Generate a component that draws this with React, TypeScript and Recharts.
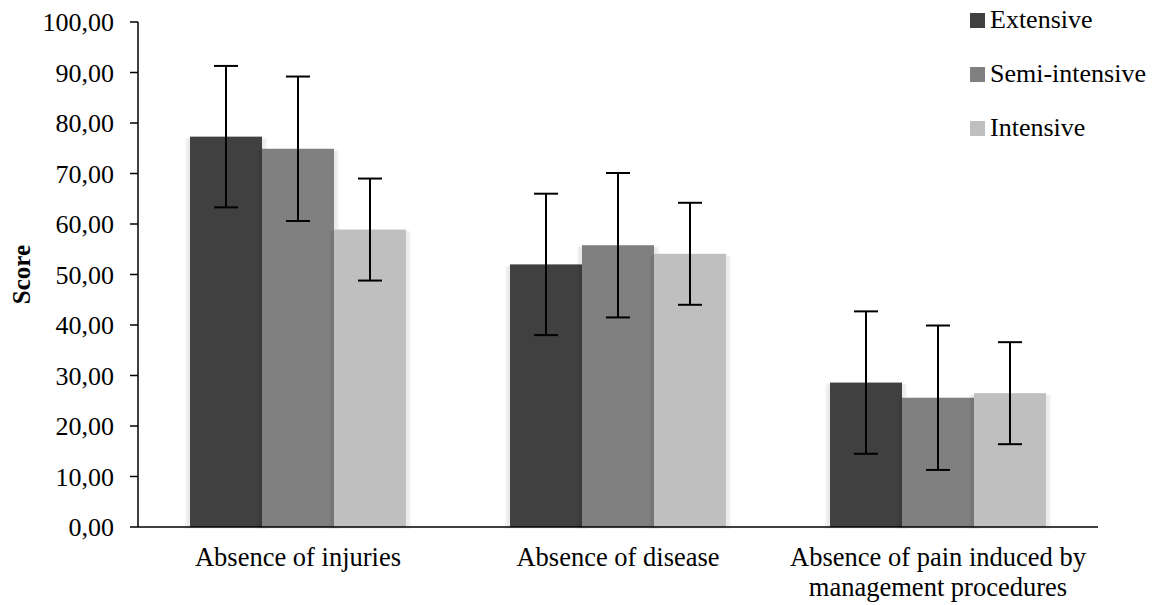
import { Bar, BarChart, ErrorBar, Label, Legend, XAxis, YAxis } from "recharts";

const CATEGORIES = [
  "Absence of injuries",
  "Absence of disease",
  "Absence of pain induced by\nmanagement procedures",
];

const SERIES_NAMES = ["Extensive", "Semi-intensive", "Intensive"];
const SERIES_COLORS = ["#404040", "#808080", "#bfbfbf"];

const EXTENSIVE = [77.3, 52.0, 28.6];
const EXTENSIVE_ERR = [14.0, 14.0, 14.1];
const SEMI_INTENSIVE = [74.9, 55.8, 25.6];
const SEMI_INTENSIVE_ERR = [14.3, 14.3, 14.3];
const INTENSIVE = [58.9, 54.1, 26.5];
const INTENSIVE_ERR = [10.1, 10.1, 10.1];

const Y_TICKS = [0, 10, 20, 30, 40, 50, 60, 70, 80, 90, 100];

const FONT = "Liberation Serif, Times New Roman, serif";

const chartData = CATEGORIES.map((name, i) => ({
  name,
  ext: EXTENSIVE[i],
  extErr: EXTENSIVE_ERR[i],
  semi: SEMI_INTENSIVE[i],
  semiErr: SEMI_INTENSIVE_ERR[i],
  int: INTENSIVE[i],
  intErr: INTENSIVE_ERR[i],
}));

const formatTick = (v: number) => v.toFixed(2).replace(".", ",");

// bar with a soft grey shadow behind it
const ShadowBar = (props: any) => {
  const { x, y, width, height, fill } = props;
  if (!height || height <= 0) return null;
  return (
    <g>
      <rect x={x - 5} y={y + 2} width={width + 10} height={height} fill="#000" fillOpacity={0.04} />
      <rect x={x - 3} y={y + 1} width={width + 6} height={height} fill="#000" fillOpacity={0.04} />
      <rect x={x} y={y} width={width} height={height} fill={fill} />
    </g>
  );
};

const CategoryTick = (props: any) => {
  const { x, y, payload } = props;
  const lines = String(payload.value).split("\n");
  return (
    <text x={x} y={y} textAnchor="middle" fill="#000" style={{ fontFamily: FONT, fontSize: 26.5 }}>
      {lines.map((line, i) => (
        <tspan key={i} x={x} dy={i === 0 ? "0.71em" : 30}>
          {line}
        </tspan>
      ))}
    </text>
  );
};

const ScoreLabel = (props: any) => {
  const vb = props.viewBox ?? { x: 0, y: 0, width: 0, height: 0 };
  const cx = 30;
  const cy = vb.y + vb.height / 2;
  return (
    <text
      x={cx}
      y={cy}
      transform={`rotate(-90, ${cx}, ${cy})`}
      textAnchor="middle"
      fill="#000"
      style={{ fontFamily: FONT, fontSize: 25, fontWeight: "bold" }}
    >
      Score
    </text>
  );
};

const LegendBox = () => (
  <div style={{ fontFamily: FONT, fontSize: 26, color: "#000", lineHeight: "26px" }}>
    {SERIES_NAMES.map((name, i) => (
      <div key={name} style={{ display: "flex", alignItems: "center", height: 54 }}>
        <span
          style={{ width: 15, height: 15, background: SERIES_COLORS[i], marginRight: 5, display: "inline-block" }}
        />
        {name}
      </div>
    ))}
  </div>
);

const App = () => {
  return (
    <div style={{ position: "absolute", left: 0, top: 0, background: "#fff" }}>
      <BarChart
        width={1158}
        height={605}
        data={chartData}
        margin={{ top: 22, right: 60, left: 0, bottom: 48 }}
        barCategoryGap={52}
        barGap={0}
      >
        <XAxis
          dataKey="name"
          height={30}
          tick={<CategoryTick />}
          tickLine={false}
          tickSize={0}
          tickMargin={20}
          axisLine={{ stroke: "#000", strokeWidth: 1.5 }}
          interval={0}
        />
        <YAxis
          width={138}
          domain={[0, 100]}
          ticks={Y_TICKS}
          tickFormatter={formatTick}
          tickSize={8}
          tickMargin={16}
          tickLine={{ stroke: "#000", strokeWidth: 1.5 }}
          axisLine={{ stroke: "#000", strokeWidth: 1.5 }}
          tick={{ fill: "#000", fontFamily: FONT, fontSize: 26 }}
        >
          <Label content={<ScoreLabel />} />
        </YAxis>
        <Legend
          layout="vertical"
          align="center"
          verticalAlign="middle"
          content={<LegendBox />}
          wrapperStyle={{ top: -7, left: 970, width: 188 }}
        />
        <Bar dataKey="ext" name={SERIES_NAMES[0]} fill={SERIES_COLORS[0]} shape={<ShadowBar />} isAnimationActive={false}>
          <ErrorBar dataKey="extErr" width={12} stroke="#000" strokeWidth={2} isAnimationActive={false} />
        </Bar>
        <Bar dataKey="semi" name={SERIES_NAMES[1]} fill={SERIES_COLORS[1]} shape={<ShadowBar />} isAnimationActive={false}>
          <ErrorBar dataKey="semiErr" width={12} stroke="#000" strokeWidth={2} isAnimationActive={false} />
        </Bar>
        <Bar dataKey="int" name={SERIES_NAMES[2]} fill={SERIES_COLORS[2]} shape={<ShadowBar />} isAnimationActive={false}>
          <ErrorBar dataKey="intErr" width={12} stroke="#000" strokeWidth={2} isAnimationActive={false} />
        </Bar>
      </BarChart>
    </div>
  );
};

export default App;
